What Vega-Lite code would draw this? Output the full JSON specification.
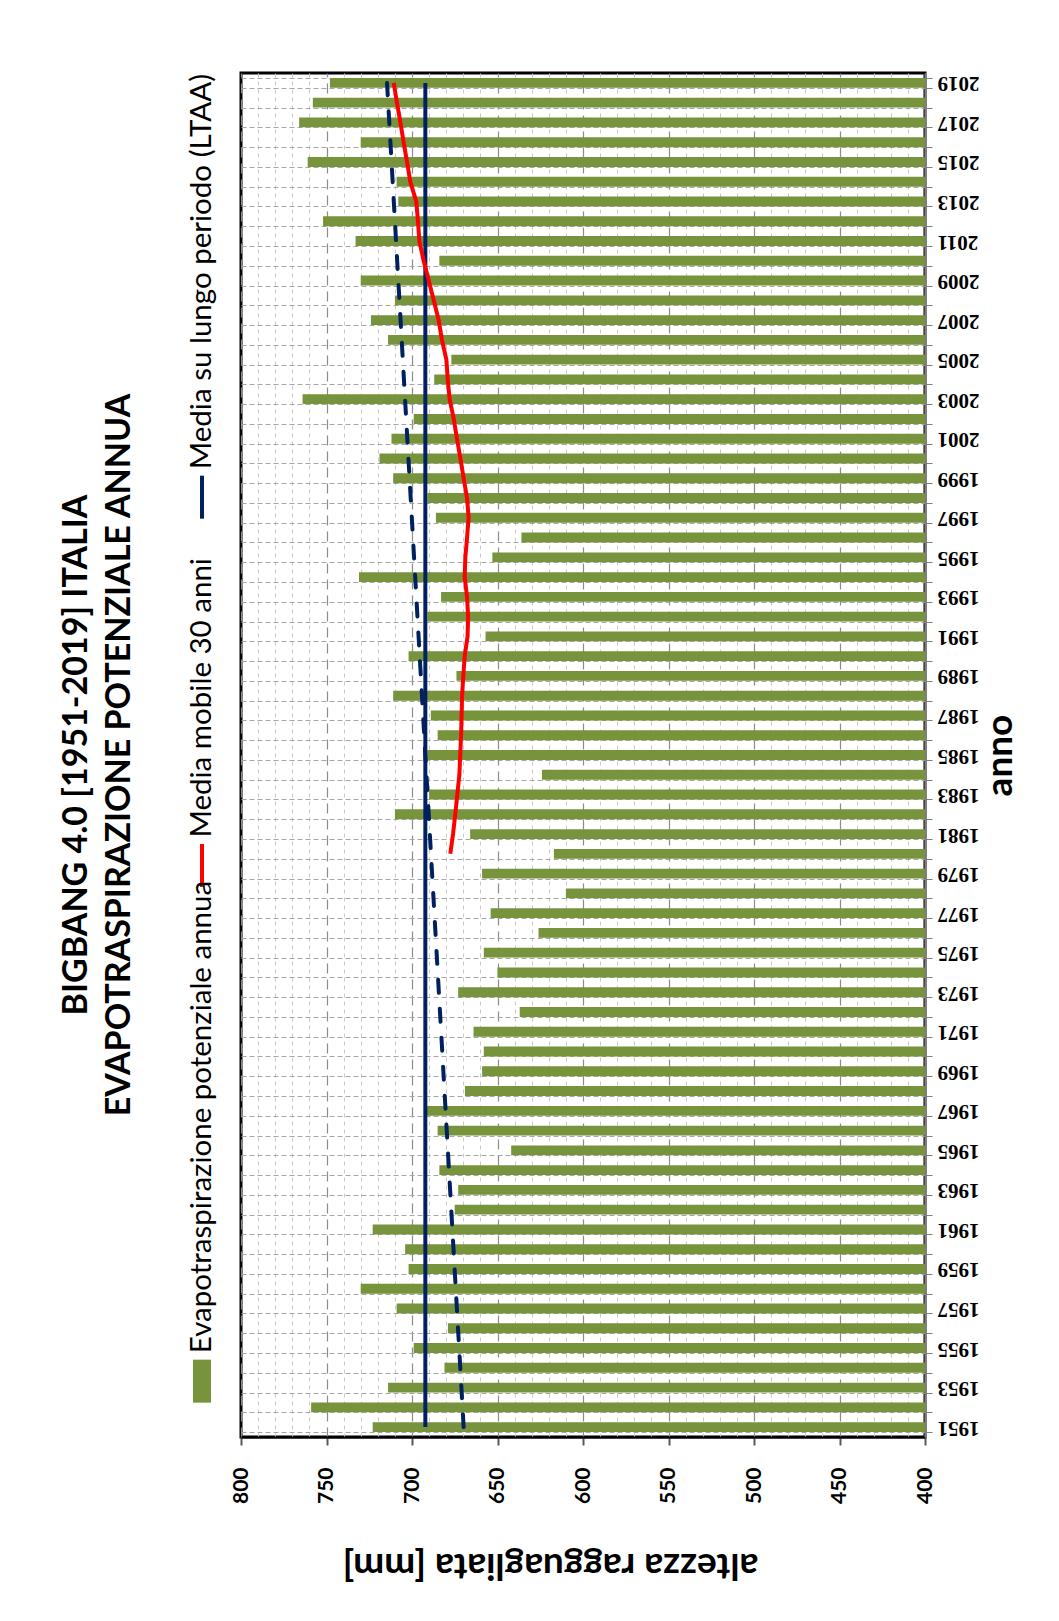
{
  "$schema": "https://vega.github.io/schema/vega-lite/v6.json",
  "background": "white",
  "autosize": {"type": "pad"},
  "padding": {"left": 59, "top": 61, "right": 5, "bottom": 5},
  "spacing": 11,
  "config": {"font": "Lato", "view": {"stroke": null}},
  "datasets": {
    "annual": [
      {"year": 1951, "etp": 723}, {"year": 1952, "etp": 759}, {"year": 1953, "etp": 714}, {"year": 1954, "etp": 681},
      {"year": 1955, "etp": 699}, {"year": 1956, "etp": 679}, {"year": 1957, "etp": 709}, {"year": 1958, "etp": 730},
      {"year": 1959, "etp": 702}, {"year": 1960, "etp": 704}, {"year": 1961, "etp": 723}, {"year": 1962, "etp": 675},
      {"year": 1963, "etp": 673}, {"year": 1964, "etp": 684}, {"year": 1965, "etp": 642}, {"year": 1966, "etp": 685},
      {"year": 1967, "etp": 691.5}, {"year": 1968, "etp": 669}, {"year": 1969, "etp": 659}, {"year": 1970, "etp": 658},
      {"year": 1971, "etp": 664}, {"year": 1972, "etp": 637}, {"year": 1973, "etp": 673}, {"year": 1974, "etp": 650},
      {"year": 1975, "etp": 658}, {"year": 1976, "etp": 626}, {"year": 1977, "etp": 654}, {"year": 1978, "etp": 610},
      {"year": 1979, "etp": 659}, {"year": 1980, "etp": 617}, {"year": 1981, "etp": 666}, {"year": 1982, "etp": 710},
      {"year": 1983, "etp": 690}, {"year": 1984, "etp": 624}, {"year": 1985, "etp": 691}, {"year": 1986, "etp": 685},
      {"year": 1987, "etp": 689}, {"year": 1988, "etp": 711}, {"year": 1989, "etp": 674}, {"year": 1990, "etp": 702},
      {"year": 1991, "etp": 657}, {"year": 1992, "etp": 691}, {"year": 1993, "etp": 683}, {"year": 1994, "etp": 731},
      {"year": 1995, "etp": 653}, {"year": 1996, "etp": 636}, {"year": 1997, "etp": 686}, {"year": 1998, "etp": 691},
      {"year": 1999, "etp": 711}, {"year": 2000, "etp": 719}, {"year": 2001, "etp": 712}, {"year": 2002, "etp": 699},
      {"year": 2003, "etp": 764}, {"year": 2004, "etp": 687}, {"year": 2005, "etp": 677}, {"year": 2006, "etp": 714},
      {"year": 2007, "etp": 724}, {"year": 2008, "etp": 710}, {"year": 2009, "etp": 730}, {"year": 2010, "etp": 684},
      {"year": 2011, "etp": 733}, {"year": 2012, "etp": 752}, {"year": 2013, "etp": 708}, {"year": 2014, "etp": 709},
      {"year": 2015, "etp": 761}, {"year": 2016, "etp": 730}, {"year": 2017, "etp": 766}, {"year": 2018, "etp": 758},
      {"year": 2019, "etp": 748}
    ],
    "mm30": [
      {"year": 1980, "v": 677.6}, {"year": 1981, "v": 676.0}, {"year": 1982, "v": 674.7}, {"year": 1983, "v": 673.5},
      {"year": 1984, "v": 672.3}, {"year": 1985, "v": 671.8}, {"year": 1986, "v": 671.3}, {"year": 1987, "v": 671.0},
      {"year": 1988, "v": 670.7}, {"year": 1989, "v": 670.0}, {"year": 1990, "v": 669.2}, {"year": 1991, "v": 667.5},
      {"year": 1992, "v": 667.2}, {"year": 1993, "v": 667.8}, {"year": 1994, "v": 669.2}, {"year": 1995, "v": 668.8},
      {"year": 1996, "v": 667.8}, {"year": 1997, "v": 666.9}, {"year": 1998, "v": 667.8}, {"year": 1999, "v": 669.8},
      {"year": 2000, "v": 671.7}, {"year": 2001, "v": 673.7}, {"year": 2002, "v": 675.6}, {"year": 2003, "v": 678.0},
      {"year": 2004, "v": 679.1}, {"year": 2005, "v": 679.9}, {"year": 2006, "v": 682.5}, {"year": 2007, "v": 684.4},
      {"year": 2008, "v": 687.3}, {"year": 2009, "v": 690.2}, {"year": 2010, "v": 693.2}, {"year": 2011, "v": 695.7},
      {"year": 2012, "v": 696.5}, {"year": 2013, "v": 697.5}, {"year": 2014, "v": 701.0}, {"year": 2015, "v": 702.9},
      {"year": 2016, "v": 704.9}, {"year": 2017, "v": 706.8}, {"year": 2018, "v": 708.8}, {"year": 2019, "v": 710.7}
    ],
    "trend": [{"year": 1951, "v": 669.8}, {"year": 2019, "v": 714.6}],
    "ltaa": [{"year": 1951, "v": 692.2}, {"year": 2019, "v": 692.2}],
    "legendItems": [
      {"series": "Evapotraspirazione potenziale annua"},
      {"series": "Media mobile 30 anni"},
      {"series": "Media su lungo periodo (LTAA)"}
    ]
  },
  "hconcat": [
    {
      "width": 30,
      "height": 1364,
      "title": {
        "text": "BIGBANG 4.0 [1951-2019] ITALIA",
        "subtitle": "EVAPOTRASPIRAZIONE POTENZIALE ANNUA",
        "orient": "left",
        "anchor": "middle",
        "font": "Lato",
        "fontSize": 34,
        "fontWeight": "bold",
        "color": "black",
        "subtitleFont": "Lato",
        "subtitleFontSize": 34,
        "subtitleFontWeight": "bold",
        "subtitleColor": "black",
        "subtitlePadding": 9,
        "offset": 50
      },
      "data": {"name": "legendItems"},
      "encoding": {
        "y": {
          "field": "series",
          "type": "nominal",
          "scale": {
            "type": "point",
            "domain": ["_a", "_b", "_c", "_d", "_e", "Media su lungo periodo (LTAA)", "_1", "_2", "_3", "_4", "Media mobile 30 anni", "_5", "_6", "_7", "_8", "_9", "_10", "Evapotraspirazione potenziale annua"],
            "padding": 0.758,
            "align": 0.5
          },
          "axis": null
        },
        "color": {
          "field": "series",
          "type": "nominal",
          "scale": {
            "domain": ["Evapotraspirazione potenziale annua", "Media mobile 30 anni", "Media su lungo periodo (LTAA)"],
            "range": ["#77933C", "#FF0000", "#002060"]
          },
          "legend": null
        }
      },
      "layer": [
        {
          "transform": [{"filter": "datum.series == 'Evapotraspirazione potenziale annua'"}],
          "mark": {"type": "point", "shape": "M-0.42,-1H0.42V1H-0.42Z", "size": 1849, "filled": true, "opacity": 1, "strokeWidth": 0}
        },
        {
          "transform": [{"filter": "datum.series != 'Evapotraspirazione potenziale annua'"}],
          "mark": {"type": "point", "shape": "M0,-1V1", "size": 1849, "filled": false, "opacity": 1, "strokeWidth": 4}
        },
        {
          "mark": {"type": "text", "angle": -90, "align": "left", "baseline": "middle", "dx": 28, "fontSize": 29.5, "font": "Lato"},
          "encoding": {"text": {"field": "series"}, "color": {"value": "black"}}
        }
      ]
    },
    {
      "width": 684,
      "height": 1364,
      "view": {"stroke": "black", "strokeWidth": 3},
      "resolve": {"axis": {"x": "independent"}},
      "layer": [
        {
          "data": {"name": "annual"},
          "mark": {"type": "bar", "color": "#77933C"},
          "encoding": {
            "y": {
              "field": "year",
              "type": "ordinal",
              "sort": "descending",
              "scale": {"paddingInner": 0.5, "paddingOuter": 0.25},
              "axis": {
                "orient": "right",
                "tickBand": "extent",
                "labelExpr": "datum.value % 2 == 1 ? datum.label : ''",
                "labelAngle": 180,
                "labelAlign": "right",
                "labelBaseline": "middle",
                "labelFont": "Liberation Serif",
                "labelFontWeight": "bold",
                "labelFontSize": 21,
                "labelColor": "black",
                "labelPadding": 5,
                "tickSize": 7,
                "tickColor": "#7f7f7f",
                "domainColor": "#7f7f7f",
                "domainWidth": 2,
                "grid": true,
                "gridColor": "#a6a6a6",
                "gridDash": [5, 3],
                "title": "anno",
                "titleAngle": -90,
                "titleBaseline": "top",
                "titleFont": "Lato",
                "titleFontSize": 37,
                "titleFontWeight": "bold",
                "titleColor": "black",
                "titlePadding": 3
              }
            },
            "x": {
              "field": "etp",
              "type": "quantitative",
              "scale": {"domain": [400, 800], "reverse": true, "zero": false, "nice": false},
              "axis": {
                "orient": "bottom",
                "values": [400, 450, 500, 550, 600, 650, 700, 750, 800],
                "labelAngle": -90,
                "labelFont": "Lato",
                "labelFontWeight": "bold",
                "labelFontSize": 21,
                "labelColor": "black",
                "labelPadding": 22,
                "tickSize": 8,
                "tickColor": "#595959",
                "tickWidth": 2,
                "domainColor": "black",
                "domainWidth": 2,
                "grid": true,
                "gridColor": "#8c8c8c",
                "gridDash": [10, 6],
                "gridWidth": 1.2,
                "title": "altezza ragguagliata [mm]",
                "titleAngle": 180,
                "titleBaseline": "bottom",
                "titleX": 309,
                "titleFont": "Lato",
                "titleFontSize": 37,
                "titleFontWeight": "bold",
                "titleColor": "black",
                "titlePadding": 42
              }
            },
            "x2": {"datum": 400}
          }
        },
        {
          "data": {"name": "ltaa"},
          "mark": {"type": "line", "color": "#002060", "strokeWidth": 4},
          "encoding": {
            "y": {"field": "year", "type": "ordinal", "sort": "descending"},
            "x": {
              "field": "v",
              "type": "quantitative",
              "axis": {
                "orient": "top",
                "values": [410, 420, 430, 440, 460, 470, 480, 490, 510, 520, 530, 540, 560, 570, 580, 590, 610, 620, 630, 640, 660, 670, 680, 690, 710, 720, 730, 740, 760, 770, 780, 790],
                "grid": true,
                "gridColor": "#c8c8c8",
                "gridDash": [4, 4],
                "labels": false,
                "ticks": false,
                "domain": false,
                "title": null
              }
            },
            "order": {"field": "year", "type": "quantitative"}
          }
        },
        {
          "data": {"name": "trend"},
          "mark": {"type": "line", "color": "#002060", "strokeWidth": 4, "strokeDash": [13, 16], "strokeCap": "round"},
          "encoding": {
            "y": {"field": "year", "type": "ordinal", "sort": "descending"},
            "x": {"field": "v", "type": "quantitative", "axis": null},
            "order": {"field": "year", "type": "quantitative"}
          }
        },
        {
          "data": {"name": "mm30"},
          "mark": {"type": "line", "color": "#FF0000", "strokeWidth": 4},
          "encoding": {
            "y": {"field": "year", "type": "ordinal", "sort": "descending"},
            "x": {"field": "v", "type": "quantitative", "axis": null},
            "order": {"field": "year", "type": "quantitative"}
          }
        }
      ]
    }
  ]
}
